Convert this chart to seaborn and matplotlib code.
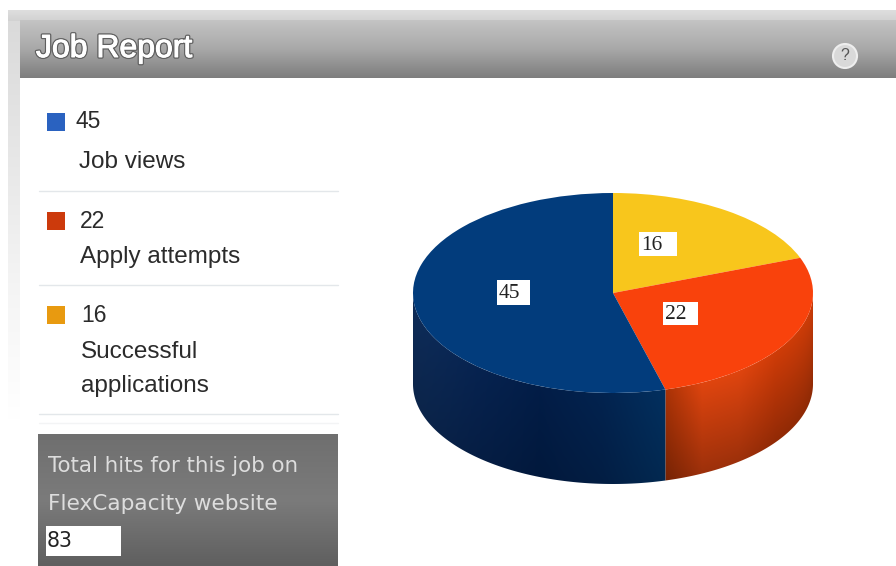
import numpy as np
import seaborn as sns
import matplotlib.pyplot as plt
import matplotlib.patheffects as pe
from matplotlib.patches import Polygon, Rectangle, Circle

categories = ["Job views", "Apply attempts", "Successful\napplications"]
values = [45, 22, 16]
total_hits = 83
title = "Job Report"
total_text = ["Total hits for this job on", "FlexCapacity website"]

legend_colors = ["#2a62c0", "#cc3a0c", "#e89a10"]
top_colors = {"Successful\napplications": "#f8c61c", "Apply attempts": "#f9420c", "Job views": "#023c7c"}

sns.set_theme(style="white")
plt.rcParams["font.family"] = ["Liberation Sans", "DejaVu Sans"]

W, H = 896, 566
fig = plt.figure(figsize=(W / 100, H / 100), dpi=100, facecolor="white")


def pixel_axes(zorder):
    a = fig.add_axes([0, 0, 1, 1], zorder=zorder)
    a.set_xlim(0, W)
    a.set_ylim(H, 0)
    a.axis("off")
    return a


def vgrad(a, x0, x1, y0, y1, cols):
    cmap = sns.blend_palette(cols, 256, as_cmap=True)
    a.imshow(np.linspace(0, 1, 256)[:, None], extent=(x0, x1, y1, y0), cmap=cmap,
             aspect="auto", zorder=1, vmin=0, vmax=1)


# page behind the chart
bg = pixel_axes(0)
vgrad(bg, 8, 20, 10, 420, ["#d9d9d9", "#e6e6e6", "#f4f4f4", "#ffffff"])
vgrad(bg, 8, W, 10, 21, ["#dedede", "#d2d2d2"])
vgrad(bg, 20, W, 20, 78, ["#c4c4c4", "#a8a8a8", "#7d7d7d"])
vgrad(bg, 38, 338, 434, 566, ["#6f6f6f", "#7b7b7b", "#5f5f5f"])
bg.set_xlim(0, W)
bg.set_ylim(H, 0)

shadow = [pe.withStroke(linewidth=2.5, foreground="#5f5f5f"),
          pe.withStroke(linewidth=0.7, foreground="white")]
bg.text(36, 49, title, color="white", fontsize=23, va="center",
        path_effects=shadow, zorder=3)
bg.add_patch(Circle((845, 56), 12, fc="#d9d9d9", ec="#eeeeee", lw=1.5, zorder=3))
bg.text(845, 56, "?", color="#555555", fontsize=11.5, ha="center", va="center", zorder=4)

# legend on the left
rows_y = [122, 221, 315]
value_x = [75, 80, 81]
label_x = [79, 80, 81]
label_y = [162, 257, 369]
rule_y = [191, 285, 414]
for i, cat in enumerate(categories):
    bg.add_patch(Rectangle((47, rows_y[i] - 9), 18, 18, fc=legend_colors[i], ec="none", zorder=3))
    bg.text(value_x[i], rows_y[i], str(values[i]), color="#2b2b2b", fontsize=16.5, va="center", zorder=3)
    bg.text(label_x[i], label_y[i], cat, color="#2b2b2b", fontsize=17.5, va="center", zorder=3,
            linespacing=1.75)
    bg.plot([39, 338], [rule_y[i], rule_y[i]], color="#e3e7ea", lw=1, zorder=2)
bg.plot([39, 338], [423, 423], color="#f3f4f5", lw=1, zorder=2)

# box at the bottom left
bg.text(48, 466, total_text[0], color="#dddddd", fontsize=15.4, va="center", zorder=3,
        family="DejaVu Sans")
bg.text(48, 504, total_text[1], color="#dddddd", fontsize=15.6, va="center", zorder=3,
        family="DejaVu Sans")
bg.add_patch(Rectangle((46, 526), 75, 30, fc="white", ec="none", zorder=3))
bg.text(47, 541, str(total_hits), color="#222222", fontsize=14.8, va="center", zorder=4,
        family="DejaVu Sans")

# pie: top face is a real pie squashed into an ellipse, 200 x 100 px
ax = fig.add_axes([413 / W, (H - 484) / H, 400 / W, 291 / H], zorder=1)
order = categories[::-1]
pie_vals = [values[categories.index(c)] for c in order]
ax.pie(pie_vals, colors=[top_colors[c] for c in order], startangle=90, counterclock=False,
       wedgeprops={"linewidth": 0, "zorder": 5})
ax.set_aspect("auto")
depth = 0.91

# side wall, from the same values
wall_cols = {
    "Apply attempts": ["#a83206", "#e0450f", "#e0450f", "#d03c08", "#cc3c08"],
    "Job views": ["#03305f", "#03234f", "#021d47", "#072350", "#0e2c58"],
}
wall_dark = {"Apply attempts": 0.3, "Job views": 0.15}
edges = 2 * np.pi * np.cumsum([0] + pie_vals) / sum(pie_vals)
for i, cat in enumerate(order):
    a0, a1 = max(edges[i], np.pi / 2), min(edges[i + 1], 3 * np.pi / 2)
    if a1 <= a0:
        continue
    th = np.linspace(a0, a1, 120)
    xs, ys = np.sin(th), np.cos(th)
    poly = np.r_[np.c_[xs, ys], np.c_[xs, ys - depth][::-1]]
    x0, x1 = xs.min(), xs.max()
    gx, gy = np.meshgrid(np.linspace(x0, x1, 300), np.linspace(0, -2, 300))
    grad = sns.blend_palette(wall_cols[cat], 256, as_cmap=True)
    # seam side of the wall comes first in each colour list
    t = (x1 - gx) / (x1 - x0) if cat == "Job views" else (gx - x0) / (x1 - x0)
    below = np.clip((-np.sqrt(1 - gx ** 2) - gy) / depth, 0, 1)
    rgb = grad(t)[:, :, :3] * (1 - wall_dark[cat] * below)[:, :, None]
    im = ax.imshow(rgb, extent=(x0, x1, -2, 0), aspect="auto", zorder=2, origin="upper")
    im.set_clip_path(Polygon(poly, transform=ax.transData))
ax.set_xlim(-1, 1)
ax.set_ylim(-1 - depth, 1)
ax.axis("off")

# value boxes over the pie
fg = pixel_axes(2)
boxes = [(497, 280, 33, 25), (663, 302, 35, 23), (639, 232, 38, 24)]
for v, (bx, by, bw, bh) in zip(values, boxes):
    fg.add_patch(Rectangle((bx, by), bw, bh, fc="white", ec="none"))
    fg.text(bx + 2, by + bh / 2 + 1, str(v), color="#222222", fontsize=15.5, va="center",
            family="Liberation Serif")

fig.savefig("out.png", dpi=100)
